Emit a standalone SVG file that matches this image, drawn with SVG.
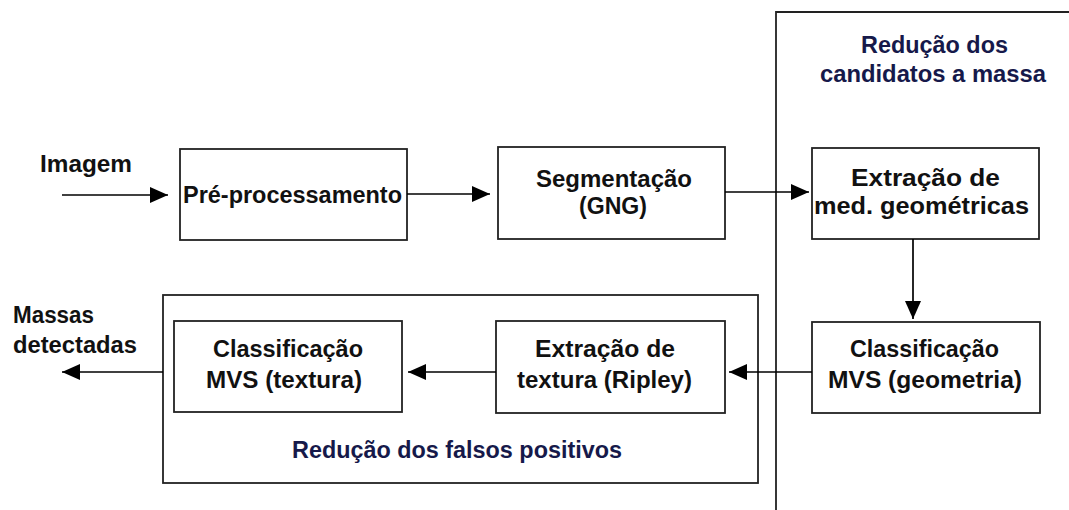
<svg xmlns="http://www.w3.org/2000/svg" width="1069" height="510" viewBox="0 0 1069 510">
  <style>
    .box { fill: #fff; stroke: #222; stroke-width: 1.8; }
    .frame { fill: none; stroke: #222; stroke-width: 1.8; }
    .t { font-family: "Liberation Sans", Arial, sans-serif; font-weight: bold; font-size: 23px; fill: #111; }
    .lbl { font-family: "Liberation Sans", Arial, sans-serif; font-weight: bold; font-size: 23px; fill: #16194a; }
    .io { font-family: "Liberation Sans", Arial, sans-serif; font-weight: bold; font-size: 23px; fill: #111; }
    .conn { stroke: #000; stroke-width: 1.7; fill: none; marker-end: url(#arr); }
  </style>
  <defs>
    <marker id="arr" markerUnits="userSpaceOnUse" markerWidth="18" markerHeight="16" refX="18" refY="8" orient="auto">
      <path d="M0,0 L18,8 L0,16 z" fill="#000"/>
    </marker>
  </defs>
  <rect width="1069" height="510" fill="#fff"/>

  <g id="reducao-candidatos">
    <path class="frame" d="M1069,12 H776 V510"/>
    <text class="lbl" x="861" y="53" textLength="147" lengthAdjust="spacingAndGlyphs">Redução dos</text>
    <text class="lbl" x="820" y="82" textLength="226" lengthAdjust="spacingAndGlyphs">candidatos a massa</text>
  </g>

  <g id="reducao-falsos">
    <rect class="frame" x="163" y="295" width="595" height="188"/>
    <text class="lbl" x="292" y="458" textLength="330" lengthAdjust="spacingAndGlyphs">Redução dos falsos positivos</text>
  </g>

  <g id="imagem">
    <text class="io" x="40" y="172" textLength="92" lengthAdjust="spacingAndGlyphs">Imagem</text>
  </g>

  <g id="massas">
    <text class="io" x="13" y="323" textLength="81" lengthAdjust="spacingAndGlyphs">Massas</text>
    <text class="io" x="13" y="353" textLength="124" lengthAdjust="spacingAndGlyphs">detectadas</text>
  </g>

  <g id="pre">
    <rect class="box" x="180" y="149" width="227" height="91"/>
    <text class="t" x="183" y="203" textLength="219" lengthAdjust="spacingAndGlyphs">Pré-processamento</text>
  </g>

  <g id="seg">
    <rect class="box" x="498" y="147" width="227" height="92"/>
    <text class="t" x="536" y="187" textLength="156" lengthAdjust="spacingAndGlyphs">Segmentação</text>
    <text class="t" x="579" y="214" textLength="68" lengthAdjust="spacingAndGlyphs">(GNG)</text>
  </g>

  <g id="extr-geo">
    <rect class="box" x="812" y="148" width="227" height="91"/>
    <text class="t" x="851" y="186" textLength="149" lengthAdjust="spacingAndGlyphs">Extração de</text>
    <text class="t" x="814" y="214" textLength="215" lengthAdjust="spacingAndGlyphs">med. geométricas</text>
  </g>

  <g id="class-geo">
    <rect class="box" x="812" y="322" width="228" height="91"/>
    <text class="t" x="850" y="357" textLength="149" lengthAdjust="spacingAndGlyphs">Classificação</text>
    <text class="t" x="828" y="388" textLength="194" lengthAdjust="spacingAndGlyphs">MVS (geometria)</text>
  </g>

  <g id="extr-tex">
    <rect class="box" x="496" y="321" width="229" height="92"/>
    <text class="t" x="535" y="357" textLength="140" lengthAdjust="spacingAndGlyphs">Extração de</text>
    <text class="t" x="517" y="388" textLength="175" lengthAdjust="spacingAndGlyphs">textura (Ripley)</text>
  </g>

  <g id="class-tex">
    <rect class="box" x="174" y="321" width="228" height="91"/>
    <text class="t" x="213" y="357" textLength="150" lengthAdjust="spacingAndGlyphs">Classificação</text>
    <text class="t" x="206" y="388" textLength="156" lengthAdjust="spacingAndGlyphs">MVS (textura)</text>
  </g>

  <g id="connectors">
    <line class="conn" x1="62" y1="195" x2="168" y2="195"/>
    <line class="conn" x1="407" y1="194" x2="490" y2="194"/>
    <line class="conn" x1="725" y1="192" x2="809" y2="192"/>
    <line class="conn" x1="913" y1="239" x2="913" y2="319"/>
    <line class="conn" x1="812" y1="372" x2="729" y2="372"/>
    <line class="conn" x1="496" y1="372" x2="408" y2="372"/>
    <line class="conn" x1="163" y1="372" x2="62" y2="372"/>
  </g>
</svg>
